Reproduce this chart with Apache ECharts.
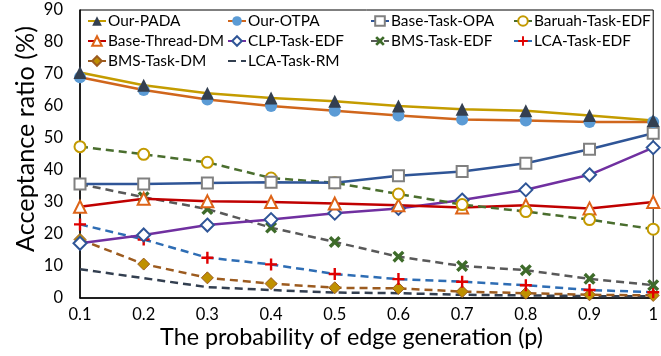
<!DOCTYPE html>
<html><head><meta charset="utf-8">
<script src="https://cdn.jsdelivr.net/npm/echarts@6/dist/echarts.min.js"></script>
<style>html,body{margin:0;padding:0;background:#fff}#c{width:661px;height:356px}</style>
</head><body><div id="c"></div>
<script>
const categories = ['0.1','0.2','0.3','0.4','0.5','0.6','0.7','0.8','0.9','1'];
const yTicks = [0,10,20,30,40,50,60,70,80,90];
const ourPADA      = [70.5, 66.5, 64.0, 62.5, 61.5, 60.0, 59.0, 58.5, 57.0, 55.5];
const ourOTPA      = [69.0, 65.0, 62.0, 60.0, 58.5, 57.0, 55.8, 55.5, 55.0, 55.0];
const baseTaskOPA  = [35.6, 35.6, 35.9, 36.2, 36.0, 38.2, 39.5, 42.1, 46.5, 51.5];
const baruahTaskEDF= [47.3, 44.9, 42.4, 37.5, 36.0, 32.5, 29.2, 27.0, 24.5, 21.5];
const baseThreadDM = [28.5, 31.0, 30.2, 30.0, 29.5, 29.0, 28.3, 29.0, 28.0, 30.0];
const clpTaskEDF   = [17.1, 19.7, 22.8, 24.5, 26.5, 28.0, 30.6, 33.8, 38.5, 47.0];
const bmsTaskEDF   = [35.6, 31.5, 27.8, 22.0, 17.5, 12.9, 10.0, 8.7, 6.0, 4.0];
const lcaTaskEDF   = [23.0, 18.3, 12.6, 10.5, 7.5, 5.9, 5.1, 4.0, 2.5, 1.8];
const bmsTaskDM    = [18.3, 10.6, 6.3, 4.5, 3.2, 3.0, 2.0, 1.5, 1.0, 0.8];
const lcaTaskRM    = [9.0, 6.2, 3.4, 2.5, 1.7, 1.5, 1.0, 0.8, 0.6, 0.5];

const FONT = 'Lato';
const xSym = 'path://M2,0 L5,3 L8,0 L10,2 L7,5 L10,8 L8,10 L5,7 L2,10 L0,8 L3,5 L0,2 Z';
const plusSym = 'path://M4,0 H6 V4 H10 V6 H6 V10 H4 V6 H0 V4 H4 Z';

const mctx = document.createElement('canvas').getContext('2d');
function fit(text, target) {
  mctx.font = '100px ' + FONT;
  const w = mctx.measureText(text).width;
  return Math.round(1000 * target / w) / 10;
}

function mk(name, data, lineColor, dashed, symbol, symColor, size, opts) {
  opts = opts || {};
  return {
    name, type: 'line', data,
    symbol, symbolSize: size,
    showSymbol: opts.show !== false,
    lineStyle: { color: lineColor, width: 2.5, type: dashed ? [8, 5] : 'solid' },
    itemStyle: Object.assign({ color: symColor, borderColor: symColor, borderWidth: 2 }, opts.item || {}),
    emphasis: { disabled: true },
    animation: false, z: 2
  };
}

const series = [
  mk('LCA-Task-RM', lcaTaskRM, '#333F50', true, 'circle', 'rgba(0,0,0,0)', 1, {show:false, item:{borderWidth:0}}),
  mk('BMS-Task-DM', bmsTaskDM, '#9C5B1F', true, 'diamond', '#BF9000', 12, {item:{borderColor:'#9C5B1F', borderWidth:1}}),
  mk('LCA-Task-EDF', lcaTaskEDF, '#2E6DB4', true, plusSym, '#E00000', 12, {item:{borderWidth:0}}),
  mk('BMS-Task-EDF', bmsTaskEDF, '#595959', true, xSym, '#3E6B2A', 12, {item:{borderWidth:0}}),
  mk('CLP-Task-EDF', clpTaskEDF, '#7030A0', false, 'emptyDiamond', '#2F5597', 13),
  mk('Base-Thread-DM', baseThreadDM, '#C00000', false, 'emptyTriangle', '#DD6418', 12),
  mk('Baruah-Task-EDF', baruahTaskEDF, '#4A6E2E', true, 'emptyCircle', '#C39A00', 11),
  mk('Base-Task-OPA', baseTaskOPA, '#2F5597', false, 'emptyRect', '#808080', 11),
  mk('Our-OTPA', ourOTPA, '#D0661C', false, 'circle', '#5B9BD5', 12, {item:{borderWidth:0}}),
  mk('Our-PADA', ourPADA, '#C49C00', false, 'triangle', '#333F50', 13, {item:{borderWidth:0}})
];

const chart = echarts.init(document.getElementById('c'), null, { renderer: 'canvas' });

function render() {
  const legendFS = Math.min(fit('Base-Thread-DM', 116), fit('Baruah-Task-EDF', 118), 19);
  const tickFS = Math.min(fit('0.1', 23), 19);
  const yTitleFS = fit('Acceptance ratio (%)', 226);
  const xTitleFS = fit('The probability of edge generation (p)', 383);

  function lg(left, names) {
    return {
      left, top: 11, orient: 'vertical', padding: 0, itemGap: 0,
      itemWidth: 18, itemHeight: 12,
      textStyle: { fontFamily: FONT, fontSize: legendFS, color: '#000', lineHeight: 20, padding: [0,0,0,-3] },
      data: names, selectedMode: false
    };
  }

  chart.setOption({
    backgroundColor: '#fff',
    animation: false,
    grid: { left: 80, right: 4, top: 10, bottom: 58, show: true, borderColor: '#000', borderWidth: 1, backgroundColor: 'transparent' },
    legend: [
      lg(87, ['Our-PADA','Base-Thread-DM','BMS-Task-DM']),
      lg(227, ['Our-OTPA','CLP-Task-EDF','LCA-Task-RM']),
      lg(370, ['Base-Task-OPA','BMS-Task-EDF']),
      lg(513, ['Baruah-Task-EDF','LCA-Task-EDF'])
    ],
    xAxis: {
      type: 'category', data: categories, boundaryGap: false,
      axisLine: { lineStyle: { color: '#000', width: 1.5 } },
      axisTick: { show: false },
      axisLabel: { fontFamily: FONT, fontSize: tickFS, color: '#000', margin: 8 },
      splitLine: { show: false }
    },
    yAxis: {
      type: 'value', min: yTicks[0], max: yTicks[yTicks.length-1], interval: 10,
      axisLine: { show: true, lineStyle: { color: '#000', width: 1.5 } },
      axisTick: { show: false },
      axisLabel: { fontFamily: FONT, fontSize: tickFS, color: '#000', margin: 17 },
      splitLine: { show: false }
    },
    graphic: [
      { id: 'yt', type: 'text', x: 26, y: 139, rotation: Math.PI/2, style: { text: 'Acceptance ratio (%)', fontFamily: FONT, fontSize: yTitleFS, fill: '#000', align: 'center', verticalAlign: 'middle' } },
      { id: 'xt', type: 'text', x: 351.5, y: 337, style: { text: 'The probability of edge generation (p)', fontFamily: FONT, fontSize: xTitleFS, fill: '#000', align: 'center', verticalAlign: 'middle' } }
    ],
    series
  });
}
render();
if (document.fonts && document.fonts.load) {
  document.fonts.load('20px ' + FONT).then(render).catch(function(){});
}
</script></body></html>
